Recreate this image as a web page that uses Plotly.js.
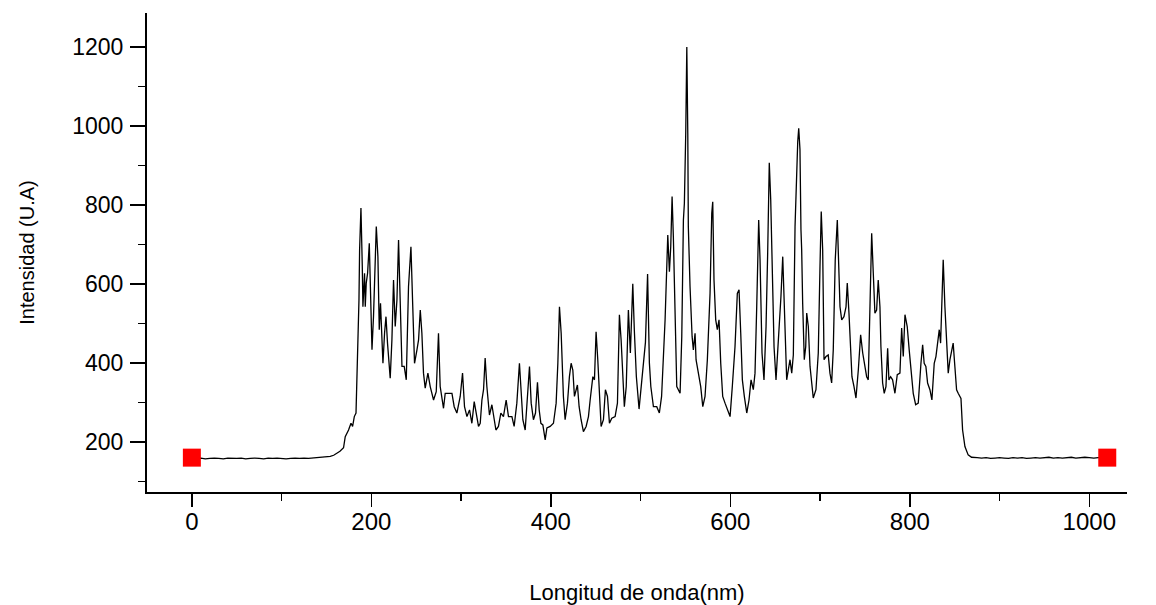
<!DOCTYPE html>
<html>
<head>
<meta charset="utf-8">
<script src="https://cdn.plot.ly/plotly-3.0.1.min.js"></script>
<style>html,body{margin:0;padding:0;background:#fff;}#chart{width:1156px;height:605px;}</style>
</head>
<body>
<div id="chart"></div>
<script>
// Wavelength (nm) and intensity (U.A)
const wavelength = [
0,5,10,15,20,25,30,35,40,45,50,55,60,65,70,75,80,85,90,95,100,105,110,115,120,125,130,135,140,145,150,154.2,158,161.7,165,169.0,170.9,174.6,177.3,179.1,181.0,182.9,184.6,186.2,186.9,188.4,189.9,190.6,192.4,193.2,194.3,195.8,197.7,198.8,200.7,202.4,205.5,207.3,208.8,210.2,211.8,212.9,214.7,216.3,218.0,221.0,222.9,224.7,226.6,228.5,230.3,232.2,234.1,236.6,238.9,241.4,244.1,245.9,248.1,250.8,252.6,254.5,256.3,258.1,260.0,263.0,265.6,269.3,272.3,274.8,276.7,280.4,282.3,286.0,289.8,292.3,295.3,299.0,301.6,303.8,306.5,309.4,312.0,314.6,316.8,319.4,321.3,323.2,325.0,326.8,328.7,330.5,331.6,334.3,336.1,338.8,341.6,344.3,347.2,350.2,352.8,356.6,359.1,362.1,365.0,366.9,368.8,371.4,373.9,376.2,378.1,380.6,382.9,385.1,387.0,388.9,391.1,393.7,395.6,399.2,402.9,405.9,407.8,409.6,411.5,414.0,415.9,418.5,420.7,422.6,424.5,426.3,429.6,431.5,433.7,436.3,439.3,441.9,443.8,446.8,448.6,450.4,452.3,454.1,456.0,458.6,460.8,463.1,465.3,467.9,471.6,474.2,476.4,478.3,480.2,481.9,484.0,485.2,486.4,488.6,491.3,493.0,495.3,498.3,500.6,503.1,505.4,507.8,509.8,511.4,514.3,518.0,520.9,523.4,525.4,527.3,530.3,532.1,533.6,535.1,536.5,538.4,540.3,544.0,545.9,547.7,548.8,550.3,551.5,552.6,553.2,555.1,556.2,557.4,558.8,560.7,561.8,564.4,567.0,569.3,571.8,574.4,577.4,579.3,580.4,581.8,583.7,585.5,587.4,589.3,591.5,594.1,596.7,599.7,602.2,605.2,607.8,609.7,611.6,613.4,615.6,618.3,620.8,623.1,625.6,627.5,629.4,631.6,633.1,634.2,635.3,637.5,639.8,641.6,643.4,645.0,646.8,648.7,650.9,652.8,654.6,656.4,658.4,660.5,662.8,664.6,666.5,668.4,670.2,672.1,674.0,675.1,676.2,677.6,678.7,679.5,680.6,682.4,684.0,685.1,686.9,688.8,690.7,692.4,695.4,698.0,699.9,701.3,702.9,704.4,706.6,709.1,711.0,712.9,714.7,716.9,719.2,721.1,722.2,724.1,726.6,728.9,730.3,732.2,734.1,735.5,737.8,740.0,742.6,745.2,747.5,750.0,751.9,753.7,755.6,757.5,759.3,761.1,763.0,764.8,766.7,767.8,769.7,771.5,773.4,775.3,776.7,778.6,780.8,783.4,786.0,789.0,790.9,792.7,794.6,797.1,799.3,802.0,803.8,806.5,809.4,812.4,814.3,816.0,817.9,819.8,822.4,824.6,827.2,829.1,831.0,832.8,834.3,835.8,837.2,839.1,841.0,842.8,844.7,846.5,848.3,850.2,852.1,853.9,855.8,857.0,858.8,861.4,865.0,868.8,875,880,885,890,895,900,905,910,915,920,925,930,935,940,945,950,955,960,965,970,975,980,985,990,995,1000,1005,1010,1015,1020
];
const intensity = [
159,158,159,157,158,159,158,157,159,158,158,159,157,158,159,158,157,159,158,159,158,157,158,159,158,159,158,159,160,161,162,163,166,171,176,185,213,230,247,239,264,273,416,559,686,792,644,542,627,542,602,627,703,618,433,518,745,669,484,551,475,399,475,517,450,361,458,610,492,559,711,559,391,391,357,593,694,559,399,433,458,534,475,374,336,374,340,306,327,475,340,285,323,323,323,289,273,315,374,289,264,281,247,302,273,239,247,306,332,412,340,298,268,294,264,230,239,273,264,306,264,264,239,298,399,332,256,230,315,391,298,256,273,351,281,247,243,205,235,239,247,298,399,542,475,315,256,298,365,399,382,315,344,289,256,226,239,264,306,365,357,479,408,332,239,256,332,315,247,260,264,298,522,458,349,289,340,420,534,425,600,484,365,283,340,395,452,625,400,340,289,289,273,315,399,509,724,631,694,821,720,542,340,323,467,762,804,981,1200,981,745,593,509,467,433,475,408,374,340,289,315,408,576,779,808,610,509,484,509,399,315,298,281,264,340,441,576,585,475,357,315,273,306,357,332,374,542,762,661,509,425,357,492,678,907,813,593,441,357,425,517,568,669,500,357,382,408,374,420,745,890,960,994,940,737,686,551,408,441,526,492,391,349,311,332,425,644,783,686,408,416,420,374,349,433,661,762,644,542,509,517,542,602,526,425,365,340,311,382,471,425,391,365,357,526,728,627,526,534,610,542,441,349,323,340,437,357,365,357,323,370,374,488,416,522,492,433,365,323,294,298,399,446,399,391,349,332,306,399,416,458,484,450,576,661,542,450,374,408,425,450,391,332,323,315,310,230,188,167,161,160,159,160,158,159,160,159,158,160,159,160,158,159,160,159,160,161,159,160,159,160,161,159,160,161,160,159,160,161,160
];
// Red square markers
const markerX = [0, 1020];
const markerY = [160, 160];

const axisFont = {family: 'Liberation Sans, Arial, sans-serif', color: '#000'};

const traces = [
  {x: wavelength, y: intensity, type: 'scatter', mode: 'lines',
   line: {color: '#000', width: 1.3}, hoverinfo: 'x+y', showlegend: false},
  {x: markerX, y: markerY, type: 'scatter', mode: 'markers',
   marker: {symbol: 'square', size: 18, color: '#ff0000', line: {width: 0}}, showlegend: false}
];

const layout = {
  width: 1156, height: 605,
  margin: {l: 147, r: 29, t: 13, b: 113},
  paper_bgcolor: '#fff', plot_bgcolor: '#fff',
  showlegend: false,
  xaxis: {
    range: [-50, 1042], tick0: 0, dtick: 200,
    ticks: 'outside', ticklen: 13, tickwidth: 1.5, tickcolor: '#000',
    showline: true, linecolor: '#000', linewidth: 2,
    showgrid: false, zeroline: false,
    tickfont: Object.assign({size: 24}, axisFont),
    ticklabelstandoff: -6,
    minor: {dtick: 100, tick0: 0, ticks: 'outside', ticklen: 7, tickwidth: 1.5, tickcolor: '#000', showgrid: false},
    title: {text: 'Longitud de onda(nm)', font: Object.assign({size: 22}, axisFont), standoff: 56}
  },
  yaxis: {
    range: [73, 1286], tick0: 0, dtick: 200,
    ticks: 'outside', ticklen: 15, tickwidth: 1.5, tickcolor: '#000',
    showline: true, linecolor: '#000', linewidth: 2,
    showgrid: false, zeroline: false,
    tickfont: Object.assign({size: 23}, axisFont),
    ticklabelstandoff: 2,
    minor: {dtick: 100, tick0: 0, ticks: 'outside', ticklen: 7, tickwidth: 1.5, tickcolor: '#000', showgrid: false},
    title: {text: 'Intensidad (U.A)', font: Object.assign({size: 20}, axisFont), standoff: 32}
  }
};

Plotly.newPlot('chart', traces, layout, {displayModeBar: false, staticPlot: true});
</script>
</body>
</html>
